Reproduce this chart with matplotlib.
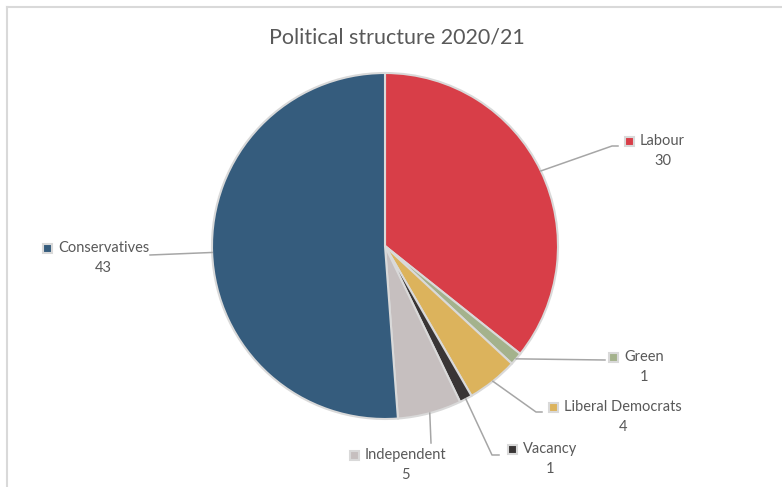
import numpy as np
import matplotlib.pyplot as plt
from matplotlib.patches import Rectangle

# -----------------------------------
# DATA
# -----------------------------------

parties = ["Labour", "Green", "Liberal Democrats", "Vacancy", "Independent", "Conservatives"]
seats = [30, 1, 4, 1, 5, 43]
colors = ["#D83E48", "#A4B28C", "#DCB35C", "#393535", "#C6BFBF", "#355C7D"]

# -----------------------------------
# LAYOUT (pixel coords, y from top)
# -----------------------------------

W, H = 782, 487
CX, CY, R = 385, 246, 173

# marker position of each label and the elbow of its leader line
label_pos = {
    "Labour": (629, 141),
    "Green": (613, 357),
    "Liberal Democrats": (553, 407),
    "Vacancy": (512, 449),
    "Independent": (354, 455),
    "Conservatives": (47, 248),
}
elbow = {
    "Labour": (612, 146),
    "Green": (605, 360),
    "Liberal Democrats": (536, 412),
    "Vacancy": (492, 455),
    "Independent": (431, 443),
    "Conservatives": (150, 255),
}
line_end = {
    "Labour": (618, 146),
    "Green": (605, 360),
    "Liberal Democrats": (542, 412),
    "Vacancy": (499, 455),
    "Independent": (431, 443),
    "Conservatives": (150, 255),
}

TEXT = "#595959"
FONT = "Lato"


def fy(y):
    return H - y


fig = plt.figure(figsize=(W / 100, H / 100), dpi=100)
ax = fig.add_axes([0, 0, 1, 1])

# chart frame
ax.plot([7, W], [fy(7), fy(7)], color="#D9D9D9", lw=1.5)
ax.plot([7, 7], [fy(7), 0], color="#D9D9D9", lw=1.5)

wedges, _ = ax.pie(
    seats,
    colors=colors,
    startangle=90,
    counterclock=False,
    center=(CX, fy(CY)),
    radius=R,
    wedgeprops=dict(edgecolor="#D9D9D9", linewidth=1.5),
    frame=True,
)
ax.set_xlim(0, W)
ax.set_ylim(0, H)
ax.set_aspect("equal")
ax.axis("off")

fig.canvas.draw()
for w, name, val, col in zip(wedges, parties, seats, colors):
    mid = np.deg2rad((w.theta1 + w.theta2) / 2)
    sx = CX + R * np.cos(mid)
    sy = fy(CY) + R * np.sin(mid)
    ex, ey = elbow[name]
    lx, ly = line_end[name]
    ax.plot([sx, ex, lx], [sy, fy(ey), fy(ly)], color="#A6A6A6", lw=1.1, zorder=1)

    mx, my = label_pos[name]
    ax.add_patch(Rectangle((mx - 4.5, fy(my) - 4.5), 9, 9, facecolor=col,
                           edgecolor="#D9D9D9", lw=1.5, zorder=3))
    t = ax.text(mx + 11, fy(my), name, ha="left", va="center",
                fontsize=10.5, color=TEXT, family=FONT)
    # value centred under the name
    bb = t.get_window_extent(renderer=fig.canvas.get_renderer())
    ax.text((bb.x0 + bb.x1) / 2, fy(my + 20), str(val), ha="center", va="center",
            fontsize=10.5, color=TEXT, family=FONT)

ax.text(397, fy(37), "Political structure 2020/21", ha="center", va="center",
        fontsize=15.5, color=TEXT, family=FONT)

plt.savefig("out.png", dpi=100)
plt.close()
